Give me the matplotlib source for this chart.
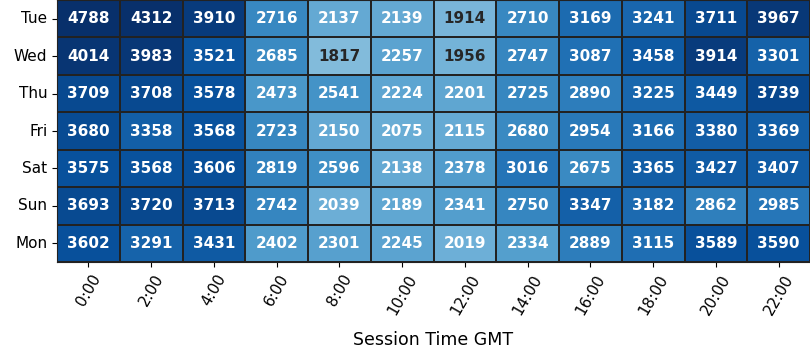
import matplotlib
matplotlib.use("Agg")
import matplotlib.pyplot as plt
import seaborn as sns
import numpy as np
import pandas as pd

days = ['Tue', 'Wed', 'Thu', 'Fri', 'Sat', 'Sun', 'Mon']
hours = ['0:00', '2:00', '4:00', '6:00', '8:00', '10:00', '12:00', '14:00', '16:00', '18:00', '20:00', '22:00']

tue = [4788, 4312, 3910, 2716, 2137, 2139, 1914, 2710, 3169, 3241, 3711, 3967]
wed = [4014, 3983, 3521, 2685, 1817, 2257, 1956, 2747, 3087, 3458, 3914, 3301]
thu = [3709, 3708, 3578, 2473, 2541, 2224, 2201, 2725, 2890, 3225, 3449, 3739]
fri = [3680, 3358, 3568, 2723, 2150, 2075, 2115, 2680, 2954, 3166, 3380, 3369]
sat = [3575, 3568, 3606, 2819, 2596, 2138, 2378, 3016, 2675, 3365, 3427, 3407]
sun = [3693, 3720, 3713, 2742, 2039, 2189, 2341, 2750, 3347, 3182, 2862, 2985]
mon = [3602, 3291, 3431, 2402, 2301, 2245, 2019, 2334, 2889, 3115, 3589, 3590]

df = pd.DataFrame([tue, wed, thu, fri, sat, sun, mon], index=days, columns=hours)

fig = plt.figure(figsize=(8.1, 3.6), dpi=100)
ax = fig.add_axes([0.0704, 0.272, 0.9296, 0.728])
sns.heatmap(df, ax=ax, cmap='Blues', vmin=0, vmax=4100, annot=True, fmt='d', cbar=False,
            linewidths=1.3, linecolor='#222222',
            annot_kws={'fontsize': 11, 'fontweight': 'bold'})
for s in ax.spines.values():
    s.set_visible(True)
    s.set_color('#222222')
ax.set_xlabel('Session Time GMT', fontsize=12.5, labelpad=10)
ax.set_ylabel('')
ax.tick_params(axis='both', labelsize=11)
plt.setp(ax.get_xticklabels(), rotation=60)
plt.setp(ax.get_yticklabels(), rotation=0)

plt.savefig('out.png', dpi=100)
plt.close()
